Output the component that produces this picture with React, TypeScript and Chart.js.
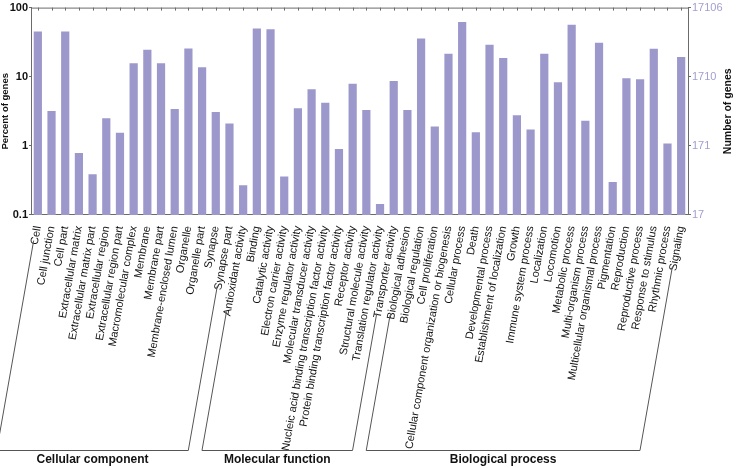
import React, { useEffect, useRef } from 'react';
import { Chart, registerables } from 'chart.js';
Chart.register(...registerables);

const cellularComponent = [
  'Cell', 'Cell junction', 'Cell part', 'Extracellular matrix', 'Extracellular matrix part',
  'Extracellular region', 'Extracellular region part', 'Macromolecular complex', 'Membrane',
  'Membrane part', 'Membrane-enclosed lumen', 'Organelle', 'Organelle part', 'Synapse', 'Synapse part',
];
const cellularValues = [45, 3.2, 45, 0.79, 0.39, 2.5, 1.55, 15.7, 24.5, 15.7, 3.4, 25.7, 13.7, 3.1, 2.1];

const molecularFunction = [
  'Antioxidant activity', 'Binding', 'Catalytic activity', 'Electron carrier activity',
  'Enzyme regulator activity', 'Molecular transducer activity',
  'Nucleic acid binding transcription factor activity', 'Protein binding transcription factor activity',
  'Receptor activity', 'Structural molecule activity', 'Translation regulator activity', 'Transporter activity',
];
const molecularValues = [0.27, 50, 48.5, 0.36, 3.5, 6.6, 4.2, 0.9, 7.9, 3.3, 0.144, 8.7];

const biologicalProcess = [
  'Biological adhesion', 'Biological regulation', 'Cell proliferation',
  'Cellular component organization or biogenesis', 'Cellular process', 'Death', 'Developmental process',
  'Establishment of localization', 'Growth', 'Immune system process', 'Localization', 'Locomotion',
  'Metabolic process', 'Multi-organism process', 'Multicellular organismal process', 'Pigmentation',
  'Reproduction', 'Reproductive process', 'Response to stimulus', 'Rhythmic process', 'Signaling',
];
const biologicalValues = [3.3, 35.6, 1.9, 21.5, 62, 1.57, 29, 18.7, 2.77, 1.73, 21.5, 8.3, 56.5, 2.3, 31, 0.3, 9.5, 9.2, 25.4, 1.08, 19.3];

const groupNames = ['Cellular component', 'Molecular function', 'Biological process'];
const groupCategories = [cellularComponent, molecularFunction, biologicalProcess];
const leftTicks = [0.1, 1, 10, 100];
const totalGenes = 17106;
const rightTickLabels = ['17', '171', '1710', '17106'];

const categories = [...cellularComponent, ...molecularFunction, ...biologicalProcess];
const percentValues = [...cellularValues, ...molecularValues, ...biologicalValues];

const FONT = '"Liberation Sans", Arial, sans-serif';
const AXIS = '#6b6b6b';
const BAR = '#9d98cc';
const RIGHT_TICK = '#a29ed0';
const ROT = 80;
const X_TICK_SIZE = 11;
const X_TICK_PAD = 2;

const decorPlugin = {
  id: 'decor',
  afterDraw(chart: any) {
    const { ctx, chartArea } = chart;
    const xs = chart.scales.x;
    ctx.save();
    ctx.strokeStyle = AXIS;
    ctx.lineWidth = 1;
    ctx.beginPath();
    ctx.moveTo(chartArea.left, chartArea.top + 0.5);
    ctx.lineTo(chartArea.right, chartArea.top + 0.5);
    for (let i = 0; i < categories.length; i++) {
      const x = Math.round(xs.getPixelForValue(i)) + 0.5;
      ctx.moveTo(x, chartArea.top);
      ctx.lineTo(x, chartArea.top + 3);
    }
    ctx.stroke();

    const midY = (chartArea.top + chartArea.bottom) / 2;
    ctx.fillStyle = '#111';
    ctx.textAlign = 'center';
    ctx.textBaseline = 'middle';
    ctx.save();
    ctx.font = `bold 9.5px ${FONT}`;
    ctx.translate(5, midY);
    ctx.rotate(-Math.PI / 2);
    ctx.fillText('Percent of genes', 0, 0);
    ctx.restore();
    ctx.save();
    ctx.font = `bold 10.5px ${FONT}`;
    ctx.translate(728, midY);
    ctx.rotate(-Math.PI / 2);
    ctx.fillText('Number of genes', 0, 0);
    ctx.restore();

    const ang = (ROT * Math.PI) / 180;
    const dx = -Math.cos(ang);
    const dy = Math.sin(ang);
    const y0 = chartArea.bottom + X_TICK_PAD;
    const bottomY = 450.5;
    ctx.font = `${X_TICK_SIZE}px ${FONT}`;
    const sidePoint = (idx: number) => {
      const w = ctx.measureText(categories[idx]).width + 5;
      const sx = xs.getPixelForValue(idx) + dx * w;
      const sy = y0 + dy * w;
      const t = (bottomY - sy) / dy;
      return { sx, sy, bx: sx + dx * t };
    };
    let start = 0;
    ctx.strokeStyle = '#555';
    groupCategories.forEach((g, gi) => {
      ctx.font = `${X_TICK_SIZE}px ${FONT}`;
      const a = sidePoint(start);
      const b = sidePoint(start + g.length - 1);
      ctx.beginPath();
      ctx.moveTo(a.sx, a.sy);
      ctx.lineTo(a.bx, bottomY);
      ctx.lineTo(b.bx, bottomY);
      ctx.lineTo(b.sx, b.sy);
      ctx.stroke();
      ctx.fillStyle = '#111';
      ctx.font = `bold 12px ${FONT}`;
      ctx.textAlign = 'center';
      ctx.textBaseline = 'middle';
      ctx.fillText(groupNames[gi], (a.bx + b.bx) / 2, 460);
      start += g.length;
    });
    ctx.restore();
  },
};

export default function App() {
  const ref = useRef<HTMLCanvasElement>(null);
  useEffect(() => {
    if (!ref.current) return;
    const chart = new Chart(ref.current, {
      type: 'bar',
      data: {
        labels: categories,
        datasets: [
          {
            data: percentValues,
            backgroundColor: BAR,
            borderWidth: 0,
            categoryPercentage: 1,
            barPercentage: 0.6,
            yAxisID: 'y',
          },
        ],
      },
      options: {
        responsive: false,
        animation: false,
        layout: { padding: { top: 5, left: 0, right: 0, bottom: 0 } },
        plugins: { legend: { display: false }, tooltip: { enabled: false }, title: { display: false } },
        scales: {
          x: {
            type: 'category',
            grid: { display: false },
            border: { display: true, color: AXIS },
            ticks: {
              autoSkip: false,
              minRotation: ROT,
              maxRotation: ROT,
              padding: X_TICK_PAD,
              color: '#111',
              font: { family: FONT, size: X_TICK_SIZE },
            },
            afterFit: (s: any) => { s.height = 253; },
          },
          y: {
            type: 'logarithmic',
            position: 'left',
            min: 0.1,
            max: 100,
            afterBuildTicks: (s: any) => { s.ticks = leftTicks.map((v) => ({ value: v })); },
            ticks: {
              callback: (v: any) => String(v),
              color: '#111',
              padding: 1,
              font: { family: FONT, size: 11, weight: 'bold' },
            },
            grid: { display: true, drawOnChartArea: false, drawTicks: true, tickLength: 2, color: AXIS },
            border: { display: true, color: AXIS },
            afterFit: (s: any) => { s.width = 31; },
          },
          y2: {
            type: 'logarithmic',
            position: 'right',
            min: totalGenes / 1000,
            max: totalGenes,
            afterBuildTicks: (s: any) => {
              s.ticks = [totalGenes / 1000, totalGenes / 100, totalGenes / 10, totalGenes].map((v) => ({ value: v }));
            },
            ticks: {
              callback: (_v: any, i: number) => rightTickLabels[i],
              color: RIGHT_TICK,
              padding: 1,
              font: { family: FONT, size: 11 },
            },
            grid: { display: true, drawOnChartArea: false, drawTicks: true, tickLength: 3, color: AXIS },
            border: { display: true, color: AXIS },
            afterFit: (s: any) => { s.width = 52; },
          },
        },
      },
      plugins: [decorPlugin],
    } as any);
    return () => chart.destroy();
  }, []);
  return (
    <div style={{ position: 'absolute', left: 0, top: 0, width: 740, height: 468, background: '#fff' }}>
      <canvas ref={ref} width={740} height={468} />
    </div>
  );
}
